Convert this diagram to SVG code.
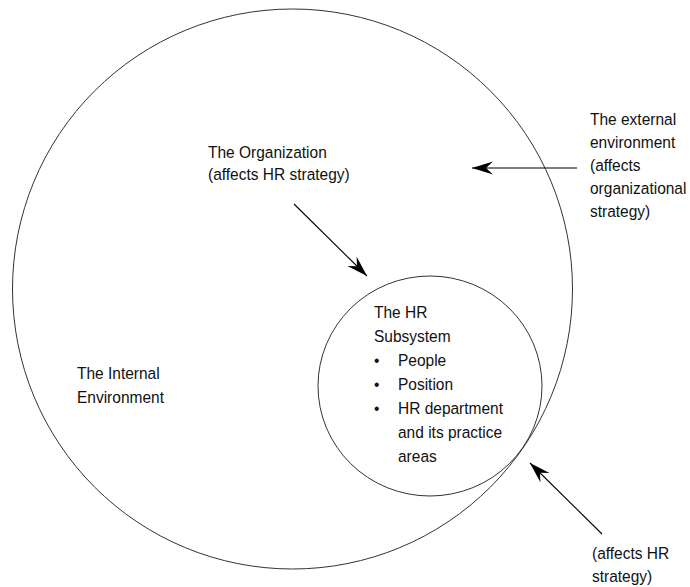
<svg xmlns="http://www.w3.org/2000/svg" width="690" height="587" viewBox="0 0 690 587">
<style>
.c{fill:none;stroke:#333;stroke-width:1}
.a{fill:none;stroke:#000;stroke-width:1.1;marker-end:url(#ah)}
text{font-family:"Liberation Sans",Arial,sans-serif;font-size:17px;fill:#111}
</style>
<defs>
<marker id="ah" markerUnits="userSpaceOnUse" viewBox="-21 -7 22 14" markerWidth="22" markerHeight="14" refX="0" refY="0" orient="auto">
<path d="M0,0 L-21,-6.5 L-14,0 L-21,6.5 Z" fill="#000"/>
</marker>
</defs>
<rect width="690" height="587" fill="#fff"/>
<g id="internal-environment">
<circle class="c" cx="292.5" cy="289" r="280"/>
<text transform="translate(77,379) scale(0.912,1)"><tspan x="0">The Internal</tspan><tspan x="0" dy="24">Environment</tspan></text>
</g>
<g id="hr-subsystem">
<ellipse class="c" cx="430" cy="386" rx="112" ry="110"/>
<text transform="translate(374,318) scale(0.912,1)"><tspan x="0">The HR</tspan><tspan x="0" dy="24">Subsystem</tspan></text>
<text transform="translate(374,366) scale(0.912,1)"><tspan x="0">•</tspan><tspan x="0" dy="24">•</tspan><tspan x="0" dy="24">•</tspan></text>
<text transform="translate(398,366) scale(0.912,1)"><tspan x="0">People</tspan><tspan x="0" dy="24">Position</tspan><tspan x="0" dy="24">HR department</tspan><tspan x="0" dy="24">and its practice</tspan><tspan x="0" dy="24">areas</tspan></text>
</g>
<g id="organization-label">
<text transform="translate(208,158) scale(0.912,1)"><tspan x="0">The Organization</tspan><tspan x="0" dy="22">(affects HR strategy)</tspan></text>
</g>
<g id="external-environment">
<text transform="translate(590,125) scale(0.912,1)"><tspan x="0">The external</tspan><tspan x="0" dy="23">environment</tspan><tspan x="0" dy="23">(affects</tspan><tspan x="0" dy="23">organizational</tspan><tspan x="0" dy="23">strategy)</tspan></text>
</g>
<g id="affects-hr-label">
<text transform="translate(592,559) scale(0.912,1)"><tspan x="0">(affects HR</tspan><tspan x="0" dy="23">strategy)</tspan></text>
</g>
<g id="connectors">
<line class="a" x1="294" y1="204" x2="367" y2="276"/>
<line class="a" x1="577" y1="168" x2="472" y2="168"/>
<line class="a" x1="602" y1="534" x2="530" y2="463"/>
</g>
</svg>
